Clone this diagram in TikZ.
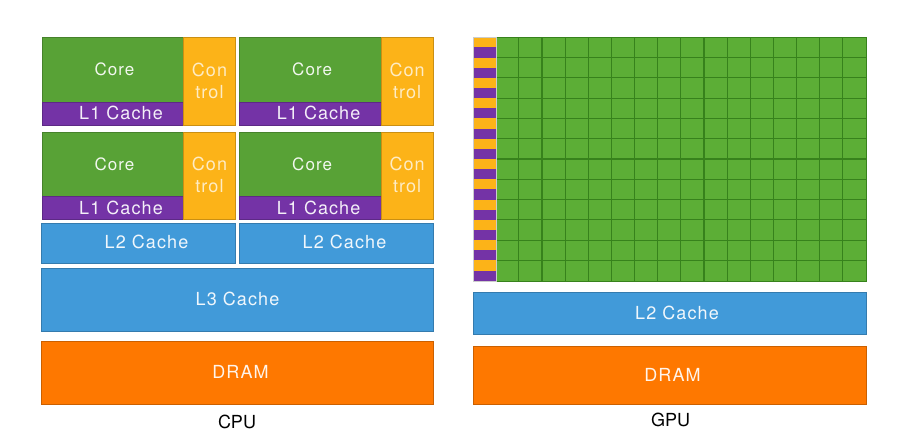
\documentclass[tikz,border=0pt]{standalone}
\usepackage{fontspec}
\setmainfont{TeX Gyre Heros}
\newfontfamily\lblfont{TeX Gyre Heros}[LetterSpace=6]
\definecolor{coreG}{HTML}{58A236}
\definecolor{gpuG}{HTML}{5CAE36}
\definecolor{gridG}{HTML}{37821C}
\definecolor{ctrlO}{HTML}{FCB318}
\definecolor{l1P}{HTML}{7433A6}
\definecolor{cacheB}{HTML}{419AD9}
\definecolor{dramO}{HTML}{FE7800}
\tikzset{
  blk/.style={draw=#1!80!black, line width=0.6pt, fill=#1, inner sep=0pt, anchor=north west},
  lbl/.style={text=white!92!#1, font=\lblfont\fontsize{18}{20}\selectfont, inner sep=0pt},
  captxt/.style={text=black, font=\fontsize{18}{20}\selectfont, inner sep=0pt}
}
\begin{document}
\begin{tikzpicture}[x=1pt,y=-1pt]
\useasboundingbox (0,0) rectangle (898,433);
% CPU cores: 2x2
\foreach \cx/\cy/\n in {0/0/a,197.6/0/b,0/94.4/c,197.6/94.4/d}{
  \node[blk=coreG, minimum width=141.3pt, minimum height=64.4pt] (core\n) at (41.7+\cx,37.3+\cy) {};
  \node[blk=l1P, minimum width=141.3pt, minimum height=23.3pt] (l1\n) at (41.7+\cx,101.7+\cy) {};
  \node[blk=ctrlO, minimum width=52pt, minimum height=87.7pt] (ctrl\n) at (183+\cx,37.3+\cy) {};
  \node[lbl=coreG, font=\lblfont\fontsize{17}{19}\selectfont] (coret\n) at (114.5+\cx,69.5+\cy) {Core};
  \node[lbl=l1P] (l1t\n) at (121+\cx,113.3+\cy) {L1 Cache};
  \node[lbl=ctrlO, text=white!75!ctrlO] (ctrlt\n) at (209.5+\cx,69.5+\cy) {Con};
  \node[lbl=ctrlO, text=white!75!ctrlO] (ctrlu\n) at (209.5+\cx,91.7+\cy) {trol};
}
% L2 caches
\node[blk=cacheB, minimum width=193.5pt, minimum height=40pt] (l2a) at (41.2,222.7) {};
\node[blk=cacheB, minimum width=193.4pt, minimum height=40pt] (l2b) at (239.3,222.7) {};
\node[lbl=cacheB] (l2at) at (146.5,242) {L2 Cache};
\node[lbl=cacheB] (l2bt) at (344.5,242) {L2 Cache};
% L3
\node[blk=cacheB, minimum width=391.5pt, minimum height=63.3pt] (l3) at (41.2,267.7) {};
\node[lbl=cacheB] (l3t) at (237.5,299) {L3 Cache};
% DRAM CPU
\node[blk=dramO, minimum width=391.5pt, minimum height=63.6pt] (dramc) at (41.2,340.7) {};
\node[lbl=dramO] (dramct) at (240.5,372) {DRAM};
\node[captxt] (cpu) at (237,421.7) {CPU};
% GPU cores grid
\node[blk=gpuG, draw=gridG, minimum width=370.3pt, minimum height=243.4pt] (gpucores) at (495.7,37.3) {};
\foreach \i in {1,...,15}{
  \draw[gridG, line width=1.1pt] (495.7+\i*23.144,37.3) -- (495.7+\i*23.144,280.7);
}
\foreach \j in {1,...,11}{
  \draw[gridG, line width=1.1pt] (495.7,37.3+\j*20.283) -- (866,37.3+\j*20.283);
}
% GPU control / L1 stripes
\foreach \j in {0,...,11}{
  \fill[ctrlO] (472.7,37.3+\j*20.283) rectangle (495.7,37.3+\j*20.283+10.14);
  \fill[l1P] (472.7,37.3+\j*20.283+10.14) rectangle (495.7,37.3+\j*20.283+20.283);
}
\node[draw=gray!40, line width=0.4pt, inner sep=0pt, anchor=north west, minimum width=23pt, minimum height=243.4pt] (gpuctrl) at (472.7,37.3) {};
% GPU L2
\node[blk=cacheB, minimum width=393.3pt, minimum height=42.6pt] (gl2) at (472.7,291.7) {};
\node[lbl=cacheB] (gl2t) at (677,312.5) {L2 Cache};
% GPU DRAM
\node[blk=dramO, minimum width=393.3pt, minimum height=58.3pt] (gdram) at (472.7,345.7) {};
\node[lbl=dramO] (gdramt) at (672.5,374.5) {DRAM};
\node[captxt] (gpu) at (670.7,420) {GPU};
\end{tikzpicture}
\end{document}
